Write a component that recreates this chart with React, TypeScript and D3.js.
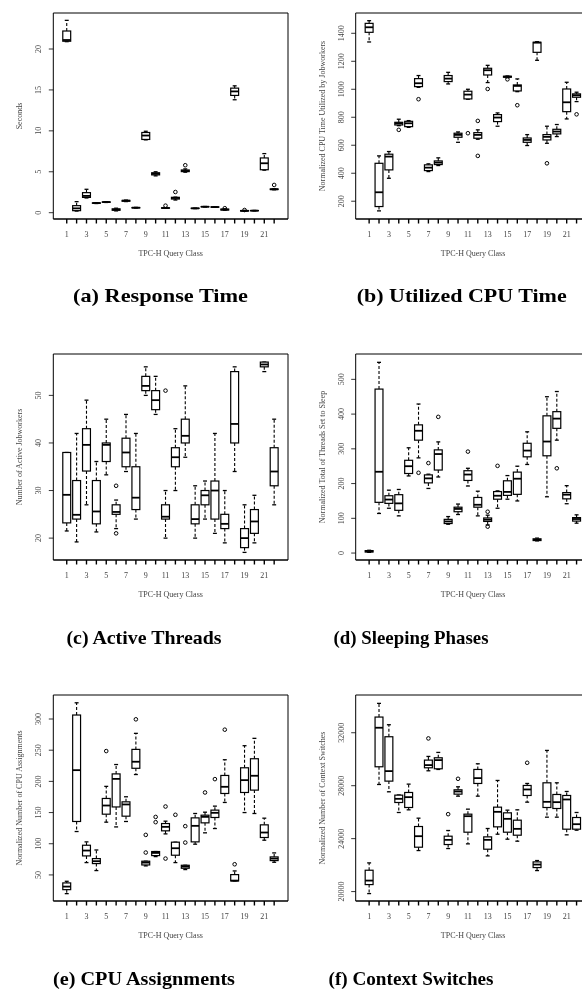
import * as d3 from "d3";

// query classes 1..22
const classes = [1, 2, 3, 4, 5, 6, 7, 8, 9, 10, 11, 12, 13, 14, 15, 16, 17, 18, 19, 20, 21, 22];
const labelledClasses = [1, 3, 5, 7, 9, 11, 13, 15, 17, 19, 21];

// box stats per class: [lower whisker, q1, median, q3, upper whisker]
const responseTime = [
  [20.9, 20.95, 21.1, 22.2, 23.5], [0.2, 0.25, 0.53, 0.86, 1.35], [1.8, 1.87, 2.05, 2.45, 2.86],
  [1.12, 1.15, 1.18, 1.2, 1.22], [1.25, 1.27, 1.3, 1.32, 1.35], [0.22, 0.3, 0.37, 0.47, 0.55],
  [1.36, 1.4, 1.47, 1.5, 1.54], [0.57, 0.59, 0.61, 0.63, 0.65], [8.9, 8.95, 9.43, 9.8, 9.95],
  [4.5, 4.62, 4.75, 4.88, 5.0], [0.53, 0.55, 0.57, 0.6, 0.62], [1.55, 1.67, 1.8, 1.88, 1.9],
  [4.95, 5.02, 5.1, 5.22, 5.35], [0.5, 0.52, 0.53, 0.55, 0.56], [0.7, 0.72, 0.73, 0.74, 0.76],
  [0.66, 0.68, 0.69, 0.71, 0.72], [0.3, 0.33, 0.38, 0.44, 0.47], [13.8, 14.33, 14.82, 15.22, 15.5],
  [0.18, 0.2, 0.23, 0.26, 0.28], [0.22, 0.24, 0.25, 0.26, 0.28], [5.2, 5.25, 6.04, 6.69, 7.22],
  [2.8, 2.83, 2.86, 2.9, 2.92],
];
const responseOut = [[11, 0.86], [12, 2.53], [13, 5.8], [17, 0.55], [19, 0.33], [22, 3.39]];

const cpuTime = [
  [1338, 1407, 1443, 1471, 1490], [131, 162, 264, 471, 524], [364, 424, 519, 536, 555],
  [740, 745, 757, 764, 786], [728, 733, 757, 771, 776], [1014, 1019, 1043, 1076, 1098],
  [412, 419, 440, 460, 467], [455, 462, 476, 488, 510], [1038, 1055, 1076, 1098, 1121],
  [621, 657, 674, 686, 695], [929, 931, 962, 986, 1000], [643, 650, 674, 690, 710],
  [1048, 1102, 1136, 1150, 1171], [736, 769, 798, 819, 831], [1083, 1086, 1090, 1093, 1095],
  [983, 988, 1024, 1031, 1074], [598, 621, 638, 652, 676], [1207, 1264, 1333, 1336, 1340],
  [614, 638, 660, 676, 736], [662, 681, 698, 714, 748], [788, 840, 907, 1002, 1050],
  [912, 943, 957, 967, 979],
];
const cpuTimeOut = [[4, 710], [6, 929], [11, 686], [12, 774], [12, 524], [13, 1002], [15, 1071], [16, 886], [19, 471], [22, 821]];

const activeThreads = [
  [21.5, 23.2, 29.1, 38, 38], [19.2, 24, 24.9, 32.1, 42], [27, 34.1, 39.6, 43, 49],
  [21.3, 23, 25.6, 32.1, 36.1], [33.3, 36.1, 39.6, 40, 45], [22, 25, 25.5, 27, 28],
  [34, 35, 38, 41, 46], [24, 26, 28.5, 35, 42], [50, 51, 52, 54, 56],
  [46, 47, 49, 51, 54], [20, 24, 24.5, 27, 30], [30, 35, 37, 39, 43],
  [37, 40, 41.5, 45, 52], [20, 23, 24, 27, 31], [24, 27, 29, 30, 32],
  [21, 24, 30, 32, 42], [19, 22, 23, 25, 30], [34, 40, 44, 55, 56],
  [17, 18, 20, 22, 27], [19, 21, 23.5, 26, 29], [55, 56, 56.5, 57, 57],
  [27, 31, 34, 39, 45],
];
const activeOut = [[6, 31], [6, 21], [11, 51]];

const sleepPhases = [
  [2, 3, 5, 7, 8], [114, 146, 234, 472, 549], [129, 143, 154, 165, 181],
  [107, 123, 143, 168, 183], [222, 229, 250, 267, 303], [274, 325, 352, 369, 429],
  [186, 202, 215, 225, 227], [219, 239, 285, 297, 320], [83, 85, 91, 97, 105],
  [111, 119, 127, 132, 141], [193, 209, 226, 237, 244], [107, 132, 139, 160, 178],
  [81, 91, 96, 101, 109], [129, 155, 165, 177, 179], [155, 166, 176, 208, 223],
  [150, 169, 214, 233, 250], [255, 277, 295, 316, 349], [35, 36, 38, 41, 43],
  [162, 280, 321, 395, 450], [325, 359, 387, 407, 465], [142, 156, 168, 174, 194],
  [86, 92, 98, 102, 110],
];
const sleepOut = [[6, 231], [7, 259], [8, 392], [11, 292], [13, 119], [13, 76], [14, 251], [20, 244]];

const cpuAssign = [
  [20, 26.4, 31.3, 37.2, 39.8], [119.6, 135.7, 218, 306.4, 326], [69.8, 80.5, 89.1, 97.6, 103],
  [57, 68.2, 72, 76.2, 90], [134.6, 147.4, 161.3, 172.6, 192], [127, 159, 204, 212, 227],
  [135.7, 144.2, 163, 167.2, 175.3], [211, 221, 231.5, 251.3, 277], [64.5, 66, 69.8, 72, 72],
  [79.4, 81, 85.3, 87.5, 87.5], [115.8, 120.7, 127.1, 132.4, 136.2], [69.8, 81.6, 92.8, 102.5, 102.5],
  [58.6, 60.7, 63.4, 65.5, 65.5], [99.3, 103, 128.7, 141.5, 148.5], [117.5, 133.5, 143.1, 145.8, 150.6],
  [124.4, 142.1, 149.6, 153.9, 160.3], [166.2, 180.6, 191.3, 209.5, 234.7], [40.4, 40.4, 40.9, 50.5, 56.4],
  [150, 182.2, 202, 221.8, 257.2], [148.5, 186, 209, 236.3, 269], [105.7, 110, 118, 130.3, 141],
  [70.3, 73, 76.2, 78.9, 85.3],
];
const cpuAssignOut = [
  [5, 248.6], [8, 299.5], [9, 114.2], [9, 85.9], [10, 143], [10, 134.6], [11, 159.7], [11, 76.2],
  [12, 146.4], [13, 128.2], [13, 101.9], [15, 182.2], [16, 203.6], [17, 282.9], [18, 67.1],
];

const ctxSwitch = [
  [19849, 20529, 20832, 21613, 22168], [28092, 29429, 32378, 33185, 34218], [27538, 28345, 29101, 31697, 32605],
  [25975, 26731, 27008, 27286, 27300], [26176, 26353, 27134, 27487, 28118], [23101, 23353, 24185, 24916, 25546],
  [29126, 29353, 29555, 29933, 30210], [29227, 29277, 29933, 30109, 30513], [23252, 23555, 23908, 24185, 24613],
  [27210, 27361, 27563, 27689, 27916], [23605, 24487, 25697, 25849, 26227], [27210, 28168, 28571, 29227, 29655],
  [22697, 23202, 23908, 24134, 24765], [24336, 24891, 26025, 26378, 28395], [23958, 24487, 25496, 25950, 26151],
  [23807, 24260, 24739, 25395, 26176], [26756, 27261, 27714, 28017, 28168], [21588, 21815, 22042, 22244, 22345],
  [25622, 26353, 26781, 28218, 30664], [25622, 26277, 26756, 27336, 28218], [24286, 24714, 26958, 27261, 27563],
  [24639, 24714, 25092, 25597, 25975],
];
const ctxOut = [[7, 31571], [9, 25849], [10, 28521], [17, 29731]];

const W = 582;
const H = 990;
const PW = 234.7;
const PH = 206;
const SERIF = "'Liberation Serif', 'DejaVu Serif', serif";
const TXT = "#444";

const panels = [
  { key: "a", left: 53.3, top: 13, capX: 160.5, capY: 302, capW: 175, yDomain: [-0.77, 24.4], yTicks: [0, 5, 10, 15, 20],
    yTitle: "Seconds", caption: "(a) Response Time", stats: responseTime, out: responseOut },
  { key: "b", left: 355.7, top: 13, capX: 461.7, capY: 302, capW: 210, yDomain: [73, 1545], yTicks: [200, 400, 600, 800, 1000, 1200, 1400],
    yTitle: "Normalized CPU Time Utilized by Jobworkers", caption: "(b) Utilized CPU Time", stats: cpuTime, out: cpuTimeOut },
  { key: "c", left: 53.3, top: 354, capX: 144, capY: 644, capW: 155, yDomain: [15.4, 58.7], yTicks: [20, 30, 40, 50],
    yTitle: "Number of Active Jobworkers", caption: "(c) Active Threads", stats: activeThreads, out: activeOut },
  { key: "d", left: 355.7, top: 354, capX: 411, capY: 644, capW: 155, yDomain: [-20, 573], yTicks: [0, 100, 200, 300, 400, 500],
    yTitle: "Normalized Total of Threads Set to Sleep", caption: "(d) Sleeping Phases", stats: sleepPhases, out: sleepOut },
  { key: "e", left: 53.3, top: 695, capX: 144, capY: 985, capW: 182, yDomain: [8.2, 338.5], yTicks: [50, 100, 150, 200, 250, 300],
    yTitle: "Normalized Number of CPU Assignments", caption: "(e) CPU Assignments", stats: cpuAssign, out: cpuAssignOut },
  { key: "f", left: 355.7, top: 695, capX: 411, capY: 985, capW: 165, yDomain: [19289, 34851], yTicks: [20000, 24000, 28000, 32000],
    yTitle: "Normalized Number of Context Switches", caption: "(f) Context Switches", stats: ctxSwitch, out: ctxOut },
];

function Panel({ p }: { p: any }) {
  const bottom = p.top + PH;
  const x = d3.scaleLinear().domain([-0.36, 23.4]).range([p.left, p.left + PW]);
  const y = d3.scaleLinear().domain(p.yDomain).range([bottom, p.top]);
  const bw = (x(2) - x(1)) * 0.8;
  const cap = bw / 2;

  return (
    <g>
      {/* frame + axes */}
      <path d={`M${p.left},${bottom}V${p.top}H${p.left + PW}V${bottom}`} fill="none" stroke="#000" strokeWidth={1} />
      <line x1={p.left} x2={p.left + PW} y1={bottom} y2={bottom} stroke="#000" strokeWidth={1.6} />
      {classes.map((c) => (
        <line key={c} x1={x(c)} x2={x(c)} y1={bottom} y2={bottom + 4.5} stroke="#000" strokeWidth={1.4} />
      ))}
      {p.yTicks.map((t: number) => (
        <line key={t} x1={p.left - 4.5} x2={p.left} y1={y(t)} y2={y(t)} stroke="#000" strokeWidth={0.8} />
      ))}

      {/* labels (group opacity keeps text antialiasing grey) */}
      <g opacity={0.999}>
        {labelledClasses.map((c) => (
          <text key={c} x={x(c)} y={bottom + 18} textAnchor="middle" fontSize={8} fontFamily={SERIF} fill={TXT}>{c}</text>
        ))}
        <text x={p.left + PW / 2} y={bottom + 37} textAnchor="middle" fontSize={8} fontFamily={SERIF} fill={TXT}>TPC-H Query Class</text>
        {p.yTicks.map((t: number) => (
          <text key={t} transform={`translate(${p.left - 12},${y(t)}) rotate(-90)`} textAnchor="middle" fontSize={8} fontFamily={SERIF} fill={TXT}>{t}</text>
        ))}
        <text transform={`translate(${p.left - 31},${p.top + PH / 2}) rotate(-90)`} textAnchor="middle" fontSize={8} fontFamily={SERIF} fill={TXT}>{p.yTitle}</text>
      </g>

      {/* boxes */}
      {p.stats.map((s: number[], i: number) => {
        const cx = x(classes[i]);
        const [lo, q1, med, q3, hi] = s;
        return (
          <g key={i}>
            <line x1={cx} x2={cx} y1={y(q3)} y2={y(hi)} stroke="#000" strokeWidth={1.1} strokeDasharray="3,2" />
            <line x1={cx} x2={cx} y1={y(q1)} y2={y(lo)} stroke="#000" strokeWidth={1.1} strokeDasharray="3,2" />
            <line x1={cx - cap / 2} x2={cx + cap / 2} y1={y(hi)} y2={y(hi)} stroke="#000" strokeWidth={1.3} />
            <line x1={cx - cap / 2} x2={cx + cap / 2} y1={y(lo)} y2={y(lo)} stroke="#000" strokeWidth={1.3} />
            <rect x={cx - bw / 2} y={y(q3)} width={bw} height={Math.max(0.01, y(q1) - y(q3))} fill="#fff" stroke="#000" strokeWidth={1.2} />
            <line x1={cx - bw / 2} x2={cx + bw / 2} y1={y(med)} y2={y(med)} stroke="#000" strokeWidth={1.8} />
          </g>
        );
      })}
      {p.out.map((o: number[], i: number) => (
        <circle key={i} cx={x(o[0])} cy={y(o[1])} r={1.8} fill="none" stroke="#000" strokeWidth={1} />
      ))}

      <text x={p.capX} y={p.capY} textAnchor="middle" fontSize={19} fontWeight="bold" fontFamily={SERIF} fill="#000"
        textLength={p.capW} lengthAdjust="spacingAndGlyphs">{p.caption}</text>
    </g>
  );
}

export default function App() {
  return (
    <svg width={W} height={H} style={{ position: "absolute", left: 0, top: 0, background: "#fff" }}>
      {panels.map((p) => (
        <Panel key={p.key} p={p} />
      ))}
    </svg>
  );
}
